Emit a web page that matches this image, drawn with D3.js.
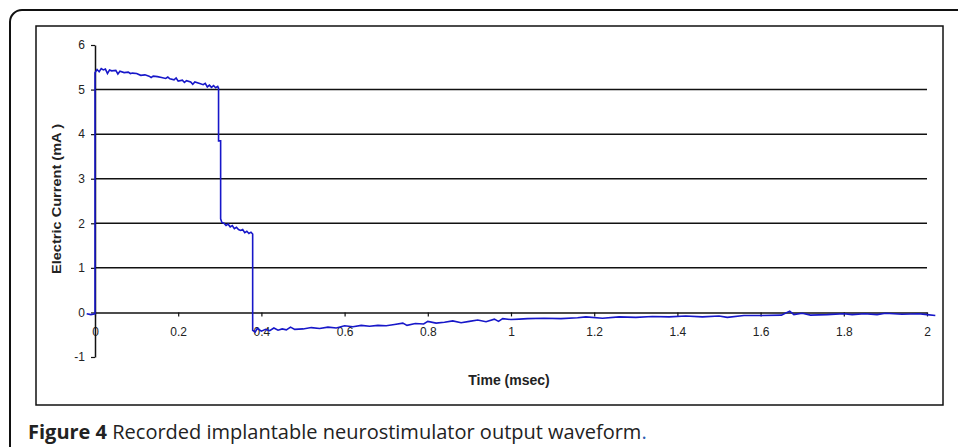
<!DOCTYPE html>
<html>
<head>
<meta charset="utf-8">
<script src="https://cdn.jsdelivr.net/npm/d3@7"></script>
<style>
  body { margin: 0; background: #fff; }
  svg { display: block; }
  .tick text { font-family: "Liberation Sans", Arial, sans-serif; font-size: 12px; fill: #222; }
  .axis-title { font-family: "Liberation Sans", Arial, sans-serif; font-weight: bold; fill: #222; }
  .caption { font-family: "Open Sans", sans-serif; font-size: 20px; fill: #222; }
</style>
</head>
<body>
<div id="chart"></div>
<script>
// Recorded waveform (time in msec, current in mA)
const timeMs = [
  -0.02, -0.01, 0.0,
  0.0, 0.005, 0.01, 0.015, 0.02, 0.025, 0.03, 0.035, 0.04, 0.05, 0.055, 0.06, 0.07, 0.08, 0.085, 0.09,
  0.10, 0.11, 0.12, 0.13, 0.135, 0.14, 0.15, 0.16, 0.17, 0.175, 0.18, 0.19, 0.195, 0.20, 0.21, 0.215,
  0.22, 0.23, 0.235, 0.24, 0.25, 0.26, 0.265, 0.27, 0.275, 0.28, 0.285, 0.29, 0.295, 0.297,
  0.297, 0.302, 0.302, 0.305, 0.31, 0.315, 0.32, 0.325, 0.33, 0.335, 0.34, 0.345, 0.35, 0.355, 0.36,
  0.365, 0.37, 0.375, 0.379,
  0.379, 0.385, 0.39, 0.40, 0.41, 0.42, 0.43, 0.44, 0.45, 0.46, 0.47, 0.48, 0.50, 0.52, 0.54, 0.56,
  0.58, 0.60, 0.62, 0.64, 0.66, 0.68, 0.70, 0.72, 0.74, 0.75, 0.77, 0.79, 0.80, 0.82, 0.84, 0.86,
  0.88, 0.90, 0.92, 0.94, 0.96, 0.97, 0.98, 1.00, 1.02, 1.04, 1.08, 1.12, 1.16, 1.18, 1.22, 1.26,
  1.30, 1.34, 1.38, 1.42, 1.46, 1.50, 1.52, 1.56, 1.60, 1.65, 1.67, 1.68, 1.70, 1.72, 1.76, 1.80,
  1.82, 1.85, 1.88, 1.90, 1.94, 1.98, 2.00, 2.02
];
const currentMa = [
  -0.03, -0.05, -0.03,
  5.38, 5.45, 5.40, 5.47, 5.44, 5.46, 5.36, 5.44, 5.42, 5.43, 5.35, 5.41, 5.38, 5.39, 5.36, 5.37,
  5.36, 5.32, 5.33, 5.30, 5.27, 5.30, 5.29, 5.27, 5.25, 5.28, 5.24, 5.22, 5.26, 5.19, 5.21, 5.16,
  5.20, 5.17, 5.12, 5.17, 5.14, 5.11, 5.14, 5.06, 5.10, 5.05, 5.09, 5.04, 5.07, 5.03,
  3.85, 3.85, 2.10, 2.02, 2.00, 1.95, 1.98, 1.92, 1.95, 1.88, 1.91, 1.86, 1.84, 1.86, 1.79,
  1.82, 1.77, 1.80, 1.76,
  -0.40, -0.44, -0.36, -0.42, -0.38, -0.41, -0.35, -0.40, -0.37, -0.39, -0.33, -0.38, -0.37, -0.34, -0.36, -0.33,
  -0.35, -0.30, -0.32, -0.29, -0.31, -0.29, -0.30, -0.27, -0.24, -0.29, -0.25, -0.26, -0.20, -0.24, -0.22, -0.19,
  -0.23, -0.20, -0.17, -0.21, -0.15, -0.20, -0.14, -0.16, -0.15, -0.14, -0.13, -0.14, -0.12, -0.10, -0.13, -0.10,
  -0.11, -0.09, -0.10, -0.08, -0.10, -0.08, -0.11, -0.07, -0.07, -0.06, 0.03, -0.05, -0.02, -0.06, -0.05, -0.03,
  -0.05, -0.03, -0.05, -0.02, -0.04, -0.03, -0.05, -0.07
];
const xTicks = [0, 0.2, 0.4, 0.6, 0.8, 1, 1.2, 1.4, 1.6, 1.8, 2];
const yTicks = [-1, 0, 1, 2, 3, 4, 5, 6];
const gridValues = [1, 2, 3, 4, 5];

const width = 958, height = 447;
const plot = { left: 95, right: 927, top: 45, bottom: 357 };

const svg = d3.select("#chart")
    .append("svg")
    .attr("width", width)
    .attr("height", height);

svg.append("rect").attr("width", width).attr("height", height).attr("fill", "#fff");

// outer figure frame (runs off the right and bottom edges)
svg.append("rect")
    .attr("x", 10).attr("y", 10)
    .attr("width", 990).attr("height", 480)
    .attr("rx", 12)
    .attr("fill", "none")
    .attr("stroke", "#111")
    .attr("stroke-width", 2);

// chart box
svg.append("rect")
    .attr("x", 36).attr("y", 26)
    .attr("width", 907).attr("height", 379)
    .attr("fill", "#fff")
    .attr("stroke", "#111")
    .attr("stroke-width", 1.5);

const x = d3.scaleLinear().domain([0, 2]).range([plot.left, plot.right]);
const y = d3.scaleLinear().domain([-1, 6]).range([plot.bottom, plot.top]);

// plain hyphen for negatives, no trailing zeros
const fmt = d => (d < 0 ? "-" : "") + Math.abs(d);

// gridlines
svg.append("g")
    .selectAll("line")
    .data(gridValues)
    .join("line")
    .attr("x1", x(0))
    .attr("x2", x(2))
    .attr("y1", d => y(d))
    .attr("y2", d => y(d))
    .attr("stroke", "#111")
    .attr("stroke-width", 1.5);

// X axis sits on zero
const xAxis = svg.append("g")
    .attr("transform", `translate(0,${y(0)})`)
    .call(d3.axisBottom(x).tickValues(xTicks).tickFormat(fmt).tickSize(4).tickSizeOuter(0).tickPadding(11));

const yAxis = svg.append("g")
    .attr("transform", `translate(${x(0)},0)`)
    .call(d3.axisLeft(y).tickValues(yTicks).tickFormat(fmt).tickSize(4).tickSizeOuter(0).tickPadding(6));

[xAxis, yAxis].forEach(a => {
    a.select(".domain").attr("stroke", "#111").attr("stroke-width", 1.5);
    a.selectAll(".tick line").attr("stroke", "#111").attr("stroke-width", 1.2);
});

// waveform
const points = timeMs.map((t, i) => ({ t: t, v: currentMa[i] }));
const line = d3.line()
    .x(d => x(d.t))
    .y(d => y(d.v));

svg.append("path")
    .datum(points)
    .attr("d", line)
    .attr("fill", "none")
    .attr("stroke", "#1717c9")
    .attr("stroke-width", 1.6);

// axis titles
svg.append("text")
    .attr("class", "axis-title")
    .attr("x", 509)
    .attr("y", 385)
    .attr("font-size", 14)
    .attr("text-anchor", "middle")
    .text("Time (msec)");

svg.append("text")
    .attr("class", "axis-title")
    .attr("transform", "rotate(-90)")
    .attr("x", -199)
    .attr("y", 61)
    .attr("font-size", 12.5)
    .attr("text-anchor", "middle")
    .attr("textLength", 150)
    .attr("lengthAdjust", "spacingAndGlyphs")
    .text("Electric Current (mA )");

// caption
const cap = svg.append("text")
    .attr("class", "caption")
    .attr("x", 28)
    .attr("y", 439);
cap.append("tspan").attr("font-weight", "bold").text("Figure 4");
cap.append("tspan").text(" Recorded implantable neurostimulator output waveform");
cap.append("tspan").attr("fill", "#2a5db0").text(".");
</script>
</body>
</html>
